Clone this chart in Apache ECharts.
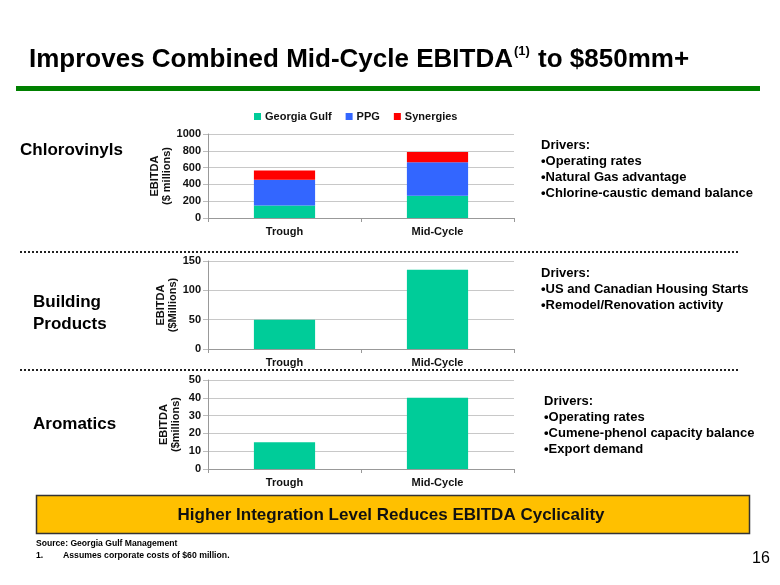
<!DOCTYPE html>
<html>
<head>
<meta charset="utf-8">
<script src="https://cdn.jsdelivr.net/npm/echarts@6/dist/echarts.min.js"></script>
<style>
html,body{margin:0;padding:0;background:#fff;}
#c{width:780px;height:585px;}
</style>
</head>
<body>
<div id="c"></div>
<script>
// ---- Data ----
const categories = ['Trough', 'Mid-Cycle'];
const chloroGeorgiaGulf = [150, 265];
const chloroPPG = [305, 400];
const chloroSynergies = [110, 120];
const buildingProducts = [50, 135];
const aromatics = [15, 40];
const chloroTicks = [0, 1000, 200];
const buildingTicks = [0, 150, 50];
const aromaticsTicks = [0, 50, 10];

const FONT = 'Arial, "Liberation Sans", sans-serif';
const GG = '#00CC99', PPGC = '#3366FF', SYN = '#FF0000';

const chart = echarts.init(document.getElementById('c'), null, {renderer: 'canvas'});

function grid(top, height) {
  return {left: 208, right: 266, top: top, height: height, containLabel: false};
}
function xAx(i) {
  return {
    type: 'category', gridIndex: i, data: categories,
    axisLine: {lineStyle: {color: '#999', width: 1}},
    axisTick: {show: true, length: 4, lineStyle: {color: '#999'}},
    axisLabel: {color: '#111', fontWeight: 'bold', fontSize: 11, fontFamily: FONT, margin: 8}
  };
}
function yAx(i, t, name, gap) {
  return {
    type: 'value', gridIndex: i, min: t[0], max: t[1], interval: t[2],
    name: name, nameLocation: 'middle', nameRotate: 90, nameGap: gap,
    nameTextStyle: {color: '#111', fontWeight: 'bold', fontSize: 11, fontFamily: FONT, lineHeight: 12},
    axisLine: {show: true, lineStyle: {color: '#999'}},
    axisTick: {show: true, length: 5, lineStyle: {color: '#bbb'}},
    splitLine: {show: true, lineStyle: {color: '#c8c8c8', width: 1}},
    axisLabel: {color: '#111', fontWeight: 'bold', fontSize: 11, fontFamily: FONT, margin: 7,
      formatter: function (v) { return String(v); }}
  };
}

const txt = (x, y, text, size, lh) => ({
  type: 'text', left: x, top: y,
  style: {text: text, font: 'bold ' + size + 'px ' + FONT, fill: '#000', lineHeight: lh || size + 2}
});

const option = {
  backgroundColor: '#fff',
  animation: false,
  legend: {
    data: ['Georgia Gulf', 'PPG', 'Synergies'],
    top: 106, left: 249,
    itemWidth: 7, itemHeight: 7, itemGap: 14,
    icon: 'rect',
    textStyle: {color: '#111', fontWeight: 'bold', fontSize: 11, fontFamily: FONT, padding: [0,0,0,-1]}
  },
  grid: [grid(134, 84), grid(261, 88), grid(380, 89)],
  xAxis: [xAx(0), xAx(1), xAx(2)],
  yAxis: [
    yAx(0, chloroTicks, 'EBITDA\n($ millions)', 32),
    yAx(1, buildingTicks, 'EBITDA\n($Millions)', 29),
    yAx(2, aromaticsTicks, 'EBITDA\n($millions)', 26)
  ],
  series: [
    {name: 'Georgia Gulf', type: 'bar', stack: 'c', xAxisIndex: 0, yAxisIndex: 0, barWidth: '40%', data: chloroGeorgiaGulf, itemStyle: {color: GG}},
    {name: 'PPG', type: 'bar', stack: 'c', xAxisIndex: 0, yAxisIndex: 0, barWidth: '40%', data: chloroPPG, itemStyle: {color: PPGC}},
    {name: 'Synergies', type: 'bar', stack: 'c', xAxisIndex: 0, yAxisIndex: 0, barWidth: '40%', data: chloroSynergies, itemStyle: {color: SYN}},
    {name: 'Building Products', type: 'bar', xAxisIndex: 1, yAxisIndex: 1, barWidth: '40%', data: buildingProducts, itemStyle: {color: GG}},
    {name: 'Aromatics', type: 'bar', xAxisIndex: 2, yAxisIndex: 2, barWidth: '40%', data: aromatics, itemStyle: {color: GG}}
  ],
  graphic: [
    {
      type: 'text', left: 29, top: 45,
      style: {
        text: '{a|Improves Combined Mid-Cycle EBITDA}{s|(1)}{a| to $850mm+}',
        rich: {
          a: {font: 'bold 26px ' + FONT, fill: '#000', lineHeight: 30},
          s: {font: 'bold 13px ' + FONT, fill: '#000', verticalAlign: 'top', lineHeight: 18, padding: [0, 1, 0, 1]}
        }
      }
    },
    {type: 'rect', shape: {x: 16, y: 86, width: 744, height: 5}, style: {fill: '#008000'}},
    txt(20, 141, 'Chlorovinyls', 17),
    txt(33, 291, 'Building\nProducts', 17, 22),
    txt(33, 415, 'Aromatics', 17),
    {type: 'line', shape: {x1: 20, y1: 252, x2: 740, y2: 252}, style: {stroke: '#222', lineWidth: 2, lineDash: [2, 2]}},
    {type: 'line', shape: {x1: 20, y1: 370, x2: 740, y2: 370}, style: {stroke: '#222', lineWidth: 2, lineDash: [2, 2]}},
    txt(541, 138, 'Drivers:\n•Operating rates\n•Natural Gas advantage\n•Chlorine-caustic demand balance', 13, 15.7),
    txt(541, 266, 'Drivers:\n•US and Canadian Housing Starts\n•Remodel/Renovation activity', 13, 15.7),
    txt(544, 394, 'Drivers:\n•Operating rates\n•Cumene-phenol capacity balance\n•Export demand', 13, 15.7),
    {type: 'rect', shape: {x: 36.5, y: 495.5, width: 713, height: 38}, style: {fill: '#FFC000', stroke: '#333', lineWidth: 1.5}},
    {type: 'text', x: 391, y: 515, style: {text: 'Higher Integration Level Reduces EBITDA Cyclicality', font: 'bold 17px ' + FONT, fill: '#111', textAlign: 'center', textVerticalAlign: 'middle'}},
    {type: 'text', left: 36, top: 539, style: {text: 'Source: Georgia Gulf Management', font: 'bold 8.6px ' + FONT, fill: '#000'}},
    {type: 'text', left: 36, top: 551, style: {text: '1.', font: 'bold 8.6px ' + FONT, fill: '#000'}},
    {type: 'text', left: 63, top: 551, style: {text: 'Assumes corporate costs of $60 million.', font: 'bold 8.7px ' + FONT, fill: '#000'}},
    {type: 'text', left: 752, top: 551, style: {text: '16', font: '16px ' + FONT, fill: '#000'}}
  ]
};
chart.setOption(option);
</script>
</body>
</html>
